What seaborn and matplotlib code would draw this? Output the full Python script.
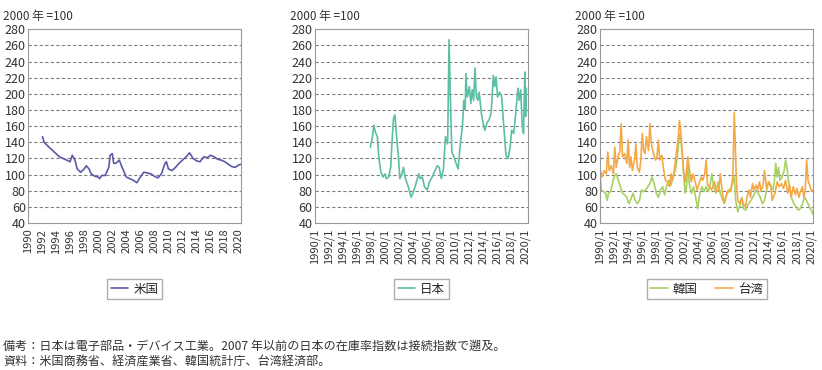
import numpy as np
import pandas as pd
import matplotlib
matplotlib.use('Agg')
import matplotlib.pyplot as plt
import seaborn as sns

# Values (year as decimal, index 2000 = 100)
us_year = [1992.07, 1992.3, 1993.0, 1994.0, 1994.5, 1995.0, 1996.0, 1996.3, 1996.7, 1997.0,
           1997.5, 1998.0, 1998.3, 1998.7, 1999.0, 1999.5, 2000.0, 2000.2, 2000.5, 2001.0,
           2001.5, 2001.7, 2002.0, 2002.2, 2002.5, 2003.0, 2003.3, 2004.0, 2004.5, 2005.0,
           2005.5, 2006.0, 2006.5, 2007.0, 2007.5, 2008.0, 2008.5, 2009.0, 2009.5, 2009.7,
           2010.0, 2010.5, 2011.0, 2011.5, 2012.0, 2012.5, 2013.0, 2013.5, 2014.0, 2014.5,
           2015.0, 2015.5, 2016.0, 2016.5, 2017.0, 2017.5, 2018.0, 2018.5, 2019.0, 2019.5,
           2020.0, 2020.4]
us_val = [147, 140, 134, 126, 122, 120, 116, 124, 118, 107,
          103, 107, 111, 107, 101, 98, 97, 95, 99, 99,
          109, 124, 126, 114, 114, 118, 111, 97, 95, 93,
          90, 97, 103, 102, 101, 98, 96, 101, 114, 116,
          107, 105, 109, 114, 118, 122, 127, 120, 117, 116,
          122, 121, 124, 122, 119, 118, 116, 113, 110, 109,
          112, 113]

jp_year = [1997.9, 1998.2, 1998.4, 1998.6, 1998.9, 1999.1, 1999.4, 1999.7, 2000.0, 2000.2,
           2000.5, 2000.8, 2001.0, 2001.2, 2001.4, 2001.6, 2001.9, 2002.1, 2002.4, 2002.6,
           2002.9, 2003.3, 2003.7, 2004.0, 2004.4, 2004.8, 2005.0, 2005.3, 2005.6, 2006.0,
           2006.3, 2006.7, 2007.0, 2007.4, 2007.7, 2008.0, 2008.3, 2008.6, 2008.9, 2009.1,
           2009.3, 2009.5, 2009.8, 2010.1, 2010.4, 2010.7, 2011.0, 2011.2, 2011.4, 2011.5,
           2011.7, 2012.0, 2012.2, 2012.4, 2012.6, 2012.8, 2013.0, 2013.2, 2013.4, 2013.7,
           2014.0, 2014.2, 2014.5, 2014.8, 2015.1, 2015.4, 2015.6, 2015.8, 2016.0, 2016.3,
           2016.6, 2016.9, 2017.2, 2017.5, 2017.8, 2018.0, 2018.3, 2018.6, 2018.9, 2019.1,
           2019.3, 2019.5, 2019.7, 2019.8, 2019.9, 2020.0, 2020.1]
jp_val = [134, 147, 161, 153, 147, 122, 103, 97, 101, 95,
          97, 109, 143, 170, 174, 151, 122, 95, 101, 109,
          95, 85, 72, 78, 89, 101, 95, 97, 85, 81,
          91, 97, 103, 111, 109, 95, 107, 147, 138, 267,
          192, 128, 122, 114, 107, 138, 159, 192, 180, 225,
          196, 209, 188, 205, 192, 232, 196, 192, 202, 176,
          161, 155, 164, 168, 176, 223, 209, 221, 196, 202,
          196, 159, 124, 120, 134, 155, 151, 176, 207, 192,
          205, 164, 151, 192, 227, 172, 207]

tw_year = [1990.0, 1990.3, 1990.6, 1990.9, 1991.1, 1991.3, 1991.6, 1991.9, 1992.1, 1992.3,
           1992.6, 1992.8, 1993.0, 1993.2, 1993.5, 1993.8, 1994.0, 1994.2, 1994.4, 1994.6,
           1994.9, 1995.1, 1995.3, 1995.6, 1995.8, 1996.0, 1996.2, 1996.4, 1996.6, 1996.9,
           1997.1, 1997.3, 1997.6, 1997.9, 1998.1, 1998.3, 1998.5, 1998.8, 1999.0, 1999.3,
           1999.6, 1999.9, 2000.1, 2000.3, 2000.6, 2000.9, 2001.1, 2001.3, 2001.5, 2001.7,
           2001.9, 2002.1, 2002.3, 2002.5, 2002.8, 2003.0, 2003.2, 2003.5, 2003.8, 2004.1,
           2004.4, 2004.6, 2004.9, 2005.1, 2005.3, 2005.6, 2005.9, 2006.1, 2006.3, 2006.6,
           2006.9, 2007.1, 2007.4, 2007.6, 2007.9, 2008.1, 2008.3, 2008.6, 2008.9, 2009.1,
           2009.4, 2009.6, 2009.9, 2010.1, 2010.4, 2010.7, 2010.9, 2011.2, 2011.4, 2011.7,
           2011.9, 2012.2, 2012.4, 2012.7, 2012.9, 2013.2, 2013.4, 2013.7, 2014.0, 2014.3,
           2014.5, 2014.9, 2015.2, 2015.5, 2015.8, 2016.1, 2016.4, 2016.7, 2017.0, 2017.2,
           2017.5, 2017.8, 2018.0, 2018.3, 2018.5, 2018.8, 2019.0, 2019.2, 2019.4, 2019.6,
           2019.9, 2020.1, 2020.3]
tw_val = [107, 97, 105, 101, 128, 105, 111, 101, 134, 109,
          124, 128, 163, 122, 126, 114, 143, 109, 122, 105,
          118, 138, 109, 103, 118, 151, 130, 126, 147, 130,
          163, 138, 126, 118, 122, 143, 118, 124, 109, 93,
          91, 85, 101, 93, 107, 130, 143, 167, 153, 126,
          101, 91, 105, 122, 101, 91, 101, 93, 81, 89,
          97, 93, 101, 118, 87, 85, 81, 87, 91, 79,
          81, 101, 79, 66, 72, 79, 81, 79, 97, 177,
          93, 68, 64, 70, 64, 60, 72, 81, 72, 89,
          81, 87, 81, 91, 79, 87, 105, 83, 91, 87,
          68, 77, 91, 85, 89, 83, 93, 77, 87, 72,
          85, 75, 83, 72, 79, 85, 72, 81, 118, 93,
          85, 79, 81]

kr_year = [1990.0, 1990.2, 1990.5, 1990.8, 1991.0, 1991.2, 1991.5, 1991.8, 1992.0, 1992.3,
           1992.6, 1992.9, 1993.2, 1993.5, 1993.8, 1994.1, 1994.4, 1994.7, 1995.0, 1995.3,
           1995.6, 1995.9, 1996.2, 1996.5, 1996.8, 1997.1, 1997.4, 1997.7, 1998.0, 1998.3,
           1998.6, 1998.9, 1999.2, 1999.5, 1999.8, 2000.1, 2000.4, 2000.7, 2001.0, 2001.3,
           2001.5, 2001.7, 2001.9, 2002.1, 2002.3, 2002.5, 2002.7, 2003.0, 2003.3, 2003.6,
           2003.9, 2004.2, 2004.5, 2004.8, 2005.1, 2005.4, 2005.7, 2005.9, 2006.2, 2006.5,
           2006.8, 2007.1, 2007.4, 2007.7, 2008.0, 2008.3, 2008.6, 2008.9, 2009.1, 2009.3,
           2009.6, 2009.9, 2010.2, 2010.4, 2010.7, 2011.0, 2011.3, 2011.6, 2011.9, 2012.2,
           2012.5, 2012.8, 2013.1, 2013.4, 2013.7, 2014.0, 2014.3, 2014.6, 2014.8, 2015.0,
           2015.2, 2015.4, 2015.6, 2015.9, 2016.2, 2016.4, 2016.6, 2016.8, 2017.0, 2017.3,
           2017.6, 2017.9, 2018.2, 2018.5, 2018.8, 2019.1, 2019.4, 2019.7, 2019.9, 2020.1,
           2020.3]
kr_val = [101, 81, 79, 77, 68, 77, 79, 91, 97, 101,
          93, 85, 77, 75, 72, 64, 70, 77, 68, 64,
          68, 81, 79, 81, 85, 89, 97, 89, 77, 72,
          81, 85, 75, 87, 93, 87, 97, 105, 122, 151,
          143, 126, 101, 77, 85, 118, 89, 77, 85, 72,
          58, 77, 85, 79, 85, 79, 89, 101, 85, 77,
          91, 77, 70, 64, 75, 79, 83, 91, 97, 68,
          54, 62, 72, 58, 56, 62, 66, 70, 75, 81,
          77, 72, 64, 68, 81, 91, 85, 81, 91, 114,
          97, 109, 93, 97, 105, 118, 109, 93, 81, 70,
          64, 60, 56, 58, 64, 72, 68, 62, 58, 56,
          51]

c_us = '#5b5aa7'
c_jp = '#5bbfa6'
c_kr = '#a8d062'
c_tw = '#f6a845'

sns.set_style('white')
plt.rcParams['font.family'] = ['Noto Sans CJK JP', 'DejaVu Sans']

fig = plt.figure(figsize=(8.22, 3.70), dpi=100)
lefts = [0.034, 0.383, 0.730]
axes = [fig.add_axes([l, 0.397, 0.259, 0.524]) for l in lefts]

panels = [
    [('米国', us_year, us_val, c_us)],
    [('日本', jp_year, jp_val, c_jp)],
    [('韓国', kr_year, kr_val, c_kr), ('台湾', tw_year, tw_val, c_tw)],
]
years = np.arange(1990, 2021, 2)

for i, (ax, series) in enumerate(zip(axes, panels)):
    for name, xs, ys, col in series:
        df = pd.DataFrame({'year': xs, 'value': ys})
        sns.lineplot(data=df, x='year', y='value', ax=ax, color=col,
                     linewidth=1.2, label=name)
    ax.set_xlim(1990, 2020.3)
    ax.set_ylim(40, 280)
    ax.set_yticks(range(40, 281, 20))
    ax.set_xticks(years)
    if i == 0:
        ax.set_xticklabels([str(y) for y in years], rotation=90)
    else:
        ax.set_xticklabels([f'{y}/1' for y in years], rotation=90)
    ax.tick_params(axis='y', length=0, pad=1.5, labelsize=9, colors='#333333')
    ax.tick_params(axis='x', length=0, pad=4, labelsize=8, colors='#333333')
    for y in range(60, 280, 20):
        ax.axhline(y, color='#808080', linestyle=(0, (3, 2)), linewidth=0.8, zorder=0)
    for s in ax.spines.values():
        s.set_color('#999999')
        s.set_linewidth(0.8)
    ax.set_xlabel('')
    ax.set_ylabel('')
    ax.legend(loc='upper center', bbox_to_anchor=(0.5, -0.255), ncol=len(series),
              frameon=True, fancybox=False, edgecolor='#999999', fontsize=9,
              handlelength=1.4, handletextpad=0.4, borderpad=0.3, columnspacing=1.4)
    fig.text(lefts[i] - 0.03, 0.955, '2000 年 =100',
             fontsize=8.5, color='#333333', ha='left', va='center')

fig.text(0.004, 0.065, '備考：日本は電子部品・デバイス工業。2007 年以前の日本の在庫率指数は接続指数で遡及。',
         fontsize=8.7, color='#333333', ha='left', va='center')
fig.text(0.004, 0.024, '資料：米国商務省、経済産業省、韓国統計庁、台湾経済部。',
         fontsize=8.7, color='#333333', ha='left', va='center')

fig.savefig('out.png', dpi=100)
